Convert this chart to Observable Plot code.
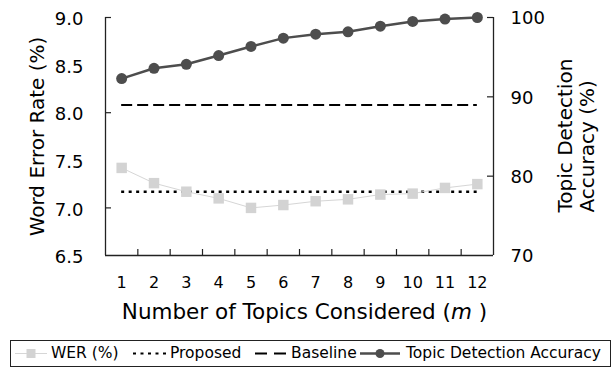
<!DOCTYPE html>
<html><head><meta charset="utf-8">
<script src="https://cdn.jsdelivr.net/npm/d3@7"></script>
<script src="https://cdn.jsdelivr.net/npm/@observablehq/plot@0.6"></script>
<style>
body{margin:0;background:#fff;font-family:"DejaVu Sans",sans-serif;}
#chart{position:absolute;left:0;top:0;}
#legend{position:absolute;left:10px;top:340px;width:601px;height:27px;border:1px solid #222;box-sizing:border-box;background:#fff;}
.item{position:absolute;top:0;height:25px;line-height:25px;font-size:15.5px;color:#000;white-space:nowrap;}
.sw{position:absolute;top:0;}
</style></head><body>
<div id="chart"></div>
<div id="legend"></div>
<script>
const topics = [1,2,3,4,5,6,7,8,9,10,11,12];
const wer = [7.42,7.26,7.17,7.10,7.00,7.03,7.07,7.09,7.14,7.15,7.21,7.25];
const accuracy = [92.3,93.6,94.1,95.2,96.35,97.4,97.9,98.2,98.9,99.5,99.8,100];
const proposedWER = 7.17;
const baselineWER = 8.08;
const werTicks = [6.5,7.0,7.5,8.0,8.5,9.0];
const werTickMarks = [7.0,8.0,9.0];
const accTicks = [70,80,90,100];
const accTickMarks = [80,90,100];
const topicBoundaries = [1.5,2.5,3.5,4.5,5.5,6.5,7.5,8.5,9.5,10.5,11.5];
const xLabel = "Number of Topics Considered (m )";
const yLabel = "Word Error Rate (%)";
const y2Label = "Topic Detection\nAccuracy (%)";
const legendItems = [
  {label:"WER (%)", kind:"wer"},
  {label:"Proposed", kind:"proposed"},
  {label:"Baseline", kind:"baseline"},
  {label:"Topic Detection Accuracy", kind:"acc"}
];

const werDomain = [6.5, 9.0];
const accDomain = [70, 100];
const accToWer = a => werDomain[0] + (a - accDomain[0]) / (accDomain[1] - accDomain[0]) * (werDomain[1] - werDomain[0]);
const werToAcc = w => accDomain[0] + (w - werDomain[0]) / (werDomain[1] - werDomain[0]) * (accDomain[1] - accDomain[0]);

const W = 613, H = 338, mL = 105, mR = 120, mT = 17, bottomY = 255;
const mB = H - bottomY;
const innerW = W - mL - mR, innerH = bottomY - mT;
const axisColor = "#222";
const rows = topics.map((m, i) => ({m, wer: wer[i], acc: accToWer(accuracy[i])}));

const plot = Plot.plot({
  width: W, height: H,
  marginLeft: mL, marginRight: mR, marginTop: mT, marginBottom: mB,
  style: {fontFamily: "DejaVu Sans", fontSize: "18px", color: "#000", background: "#fff", overflow: "visible"},
  x: {domain: [0.5, 12.5], axis: null},
  y: {domain: werDomain, axis: null},
  marks: [
    Plot.ruleY([baselineWER], {x1: topics[0], x2: topics[topics.length-1], stroke: "#000", strokeWidth: 2, strokeDasharray: "11,5"}),
    Plot.ruleY([proposedWER], {x1: topics[0], x2: topics[topics.length-1], stroke: "#000", strokeWidth: 2.5, strokeDasharray: "3,4.5"}),
    Plot.line(rows, {x: "m", y: "wer", stroke: "#d6d6d6", strokeWidth: 1}),
    Plot.dot(rows, {x: "m", y: "wer", symbol: "square", r: 5.9, fill: "#d3d3d3", stroke: "none"}),
    Plot.line(rows, {x: "m", y: "acc", stroke: "#4d4d4d", strokeWidth: 2.5}),
    Plot.dot(rows, {x: "m", y: "acc", r: 5.5, fill: "#4d4d4d", stroke: "none"}),
    Plot.ruleY([werDomain[0]], {stroke: axisColor, strokeWidth: 1.3}),
    Plot.ruleX([0.5, 12.5], {stroke: axisColor, strokeWidth: 1.3}),
    Plot.tickX(topicBoundaries, {x: d => d, insetTop: innerH - 6, stroke: axisColor, strokeWidth: 1.2}),
    Plot.tickY(werTickMarks, {y: d => d, insetRight: innerW - 6, stroke: axisColor, strokeWidth: 1.2}),
    Plot.tickY(accTickMarks.map(accToWer), {y: d => d, insetLeft: innerW - 6, stroke: axisColor, strokeWidth: 1.2}),
    Plot.axisY(werTicks, {anchor: "left", tickSize: 0, tickPadding: 22, tickFormat: d => d.toFixed(1), fontSize: 18, dy: 2, label: null}),
    Plot.axisY(accTicks.map(accToWer), {anchor: "right", tickSize: 0, tickPadding: 17, tickFormat: d => String(Math.round(werToAcc(d))), fontSize: 18, dy: 1, label: null}),
    Plot.axisX(topics, {anchor: "bottom", tickSize: 0, tickPadding: 21, fontSize: 16, label: null}),
    Plot.text([yLabel], {frameAnchor: "left", dx: -68, rotate: -90, fontSize: 20, textAnchor: "middle", lineAnchor: "middle"}),
    Plot.text([y2Label], {frameAnchor: "right", dx: 82, dy: 76, rotate: -90, textAnchor: "start", lineAnchor: "middle", lineHeight: 1.1, fontSize: 20}),
    Plot.text([xLabel], {frameAnchor: "bottom", dy: 57, dx: 5, fontSize: 21.5, textAnchor: "middle", lineAnchor: "middle"})
  ]
});
document.getElementById("chart").appendChild(plot);

// italic m in the x title
d3.select(plot).selectAll("text").each(function() {
  if (this.textContent === xLabel) {
    const t = d3.select(this);
    t.text(null);
    t.append("tspan").text("Number of Topics Considered (");
    t.append("tspan").attr("font-style", "italic").text("m");
    t.append("tspan").text(" )");
  }
});

// legend
const legend = d3.select("#legend");
const swX = {wer: 15, proposed: 133, baseline: 255, acc: 360};
const swW = {wer: 32, proposed: 34, baseline: 32, acc: 40};
const txtX = {wer: 51, proposed: 170, baseline: 291, acc: 406};
const off = 11;
legendItems.forEach(it => {
  const w = swW[it.kind];
  const svg = legend.append("svg").attr("class", "sw")
    .style("left", (swX[it.kind] - off) + "px")
    .attr("width", w).attr("height", 25);
  const cy = 12.5;
  if (it.kind === "wer") {
    svg.append("line").attr("x1", 0).attr("x2", w).attr("y1", cy).attr("y2", cy).attr("stroke", "#d6d6d6").attr("stroke-width", 1);
    svg.append("rect").attr("x", w/2 - 4.5).attr("y", cy - 4.5).attr("width", 9).attr("height", 9).attr("fill", "#d3d3d3");
  } else if (it.kind === "proposed") {
    svg.append("line").attr("x1", 0).attr("x2", w).attr("y1", cy).attr("y2", cy).attr("stroke", "#000").attr("stroke-width", 2).attr("stroke-dasharray", "3,4.5");
  } else if (it.kind === "baseline") {
    svg.append("line").attr("x1", 0).attr("x2", w).attr("y1", cy).attr("y2", cy).attr("stroke", "#000").attr("stroke-width", 2).attr("stroke-dasharray", "12,7");
  } else {
    svg.append("line").attr("x1", 0).attr("x2", w).attr("y1", cy).attr("y2", cy).attr("stroke", "#4d4d4d").attr("stroke-width", 2.5);
    svg.append("circle").attr("cx", w/2).attr("cy", cy).attr("r", 4.5).attr("fill", "#4d4d4d");
  }
  legend.append("div").attr("class", "item").style("left", (txtX[it.kind] - off) + "px").text(it.label);
});
</script>
</body></html>
